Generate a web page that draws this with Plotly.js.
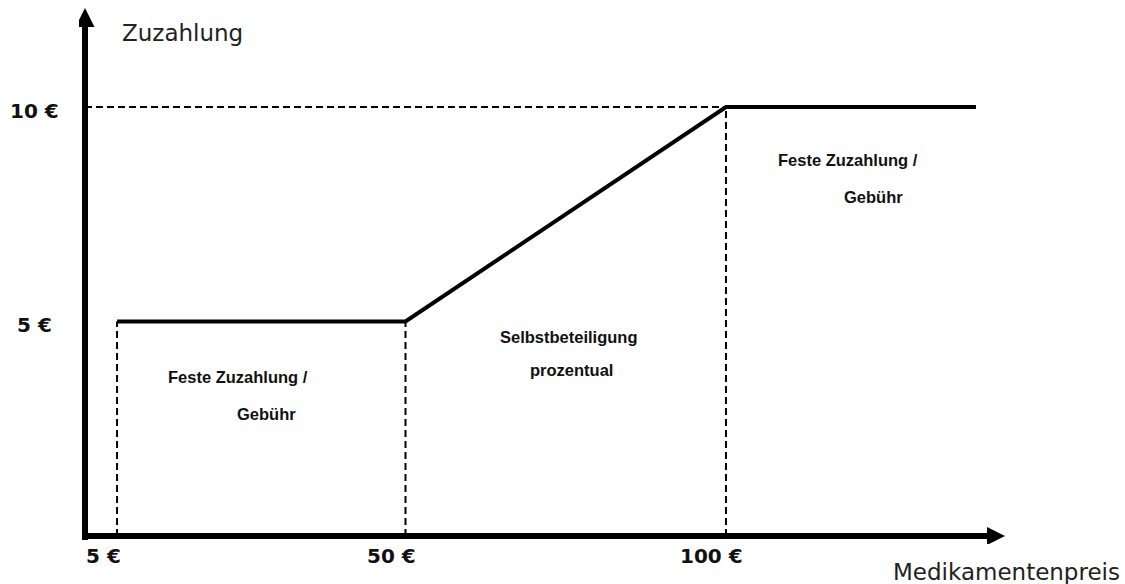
<!DOCTYPE html>
<html>
<head>
<meta charset="utf-8">
<script src="https://cdn.plot.ly/plotly-3.0.1.min.js"></script>
<style>html,body{margin:0;padding:0;background:#fff;}#chart{width:1125px;height:584px;}</style>
</head>
<body>
<div id="chart"></div>
<script>
// ---- data ----
const priceX = [5, 50, 100, 139];          // Medikamentenpreis (€)
const copayY = [5, 5, 10, 10];             // Zuzahlung (€)
const breakX = [5, 50, 100];               // Knickpunkte
const breakY = [5, 5, 10];
const capY = 10;                            // Höchstzuzahlung
const xTickVals = [5, 50, 100];
const xTickText = ['5 €', '50 €', '100 €'];
const yTickVals = [5, 10];
const yTickText = ['5 €', '10 €'];
const regionLines = [
  ['Feste Zuzahlung /', 'Gebühr'],
  ['Selbstbeteiligung', 'prozentual'],
  ['Feste Zuzahlung /', 'Gebühr']
];
const xTitle = 'Medikamentenpreis';
const yTitle = 'Zuzahlung';

// ---- layout helpers (pixel geometry of the plot) ----
const W = 1125, H = 584;
const M = {l: 79, r: 117, t: 6, b: 40};
const xRange = [-0.936, 144];
const yRange = [-0.1865, 12.354];
const pw = W - M.l - M.r, ph = H - M.t - M.b;
const px2x = p => xRange[0] + (p - M.l) / pw * (xRange[1] - xRange[0]);
const py2y = p => yRange[1] - (p - M.t) / ph * (yRange[1] - yRange[0]);
const px2paper = p => (p - M.l) / pw;
const py2paper = p => 1 - (p - M.t) / ph;
const y2paper = v => (v - yRange[0]) / (yRange[1] - yRange[0]);

const traces = [];
// dashed guides
breakX.forEach((bx, i) => {
  traces.push({x: [bx, bx], y: [0, breakY[i]], mode: 'lines', hoverinfo: 'skip',
    line: {color: '#000', width: 2, dash: '7px,4px'}, showlegend: false});
});
traces.push({x: [0, breakX[2]], y: [capY, capY], mode: 'lines', hoverinfo: 'skip',
  line: {color: '#000', width: 2, dash: '7px,4px'}, showlegend: false});
// main curve
traces.push({x: priceX, y: copayY, mode: 'lines', hoverinfo: 'skip',
  line: {color: '#000', width: 4}, showlegend: false});

const shapes = [
  {type: 'line', xref: 'x', yref: 'y', x0: 0, x1: 0, y0: py2y(540), y1: py2y(22), line: {color: '#000', width: 6}},
  {type: 'line', xref: 'x', yref: 'y', x0: px2x(82), x1: px2x(992), y0: 0, y1: 0, line: {color: '#000', width: 6}},
  {type: 'path', xref: 'x', yref: 'y', xsizemode: 'pixel', ysizemode: 'pixel', xanchor: 0, yanchor: py2y(8),
    path: 'M-9.5,-19 L0,0 L9.5,-19 Z', fillcolor: '#000', line: {width: 0}},
  {type: 'path', xref: 'x', yref: 'y', xsizemode: 'pixel', ysizemode: 'pixel', xanchor: px2x(1005), yanchor: 0,
    path: 'M0,0 L-18,9 L-18,-9 Z', fillcolor: '#000', line: {width: 0}}
];

const tickFont = {family: 'DejaVu Sans', size: 20, color: '#111', weight: 'bold'};
const blockFont = {family: 'Liberation Sans', size: 16.5, color: '#111', weight: 'bold'};
const titleFont = {family: 'DejaVu Sans', size: 23, color: '#222'};

const ann = [];
xTickVals.forEach((v, i) => ann.push({x: v, y: 0, xref: 'x', yref: 'y', text: xTickText[i], showarrow: false,
  xanchor: 'center', yanchor: 'middle', xshift: -14, yshift: -20, font: tickFont}));
yTickVals.forEach((v, i) => ann.push({x: px2paper(34.5), y: y2paper(v), xref: 'paper', yref: 'paper', text: yTickText[i], showarrow: false,
  xanchor: 'center', yanchor: 'middle', yshift: -4, font: tickFont}));

// region label placement (pixel centres)
const regionPos = [
  [[238, 377], [266, 414]],
  [[569, 337], [571, 370]],
  [[848, 160], [873, 197]]
];
regionLines.forEach((lines, r) => lines.forEach((t, k) => {
  ann.push({x: px2x(regionPos[r][k][0]), y: py2y(regionPos[r][k][1]), xref: 'x', yref: 'y', text: t,
    showarrow: false, xanchor: 'center', yanchor: 'middle', font: blockFont});
}));

ann.push({x: px2paper(120), y: py2paper(33), xref: 'paper', yref: 'paper', text: yTitle, showarrow: false,
  xanchor: 'left', yanchor: 'middle', font: titleFont});
ann.push({x: px2paper(1122), y: py2paper(572), xref: 'paper', yref: 'paper', text: xTitle, showarrow: false,
  xanchor: 'right', yanchor: 'middle', font: titleFont});

const axisCommon = {showgrid: false, zeroline: false, showline: false, showticklabels: false, ticks: '', fixedrange: true};
const layout = {
  width: W, height: H, margin: M, autosize: false,
  paper_bgcolor: '#fff', plot_bgcolor: '#fff',
  xaxis: Object.assign({range: xRange}, axisCommon),
  yaxis: Object.assign({range: yRange}, axisCommon),
  shapes: shapes, annotations: ann, showlegend: false
};
Plotly.newPlot('chart', traces, layout, {displayModeBar: false, staticPlot: true});
</script>
</body>
</html>
